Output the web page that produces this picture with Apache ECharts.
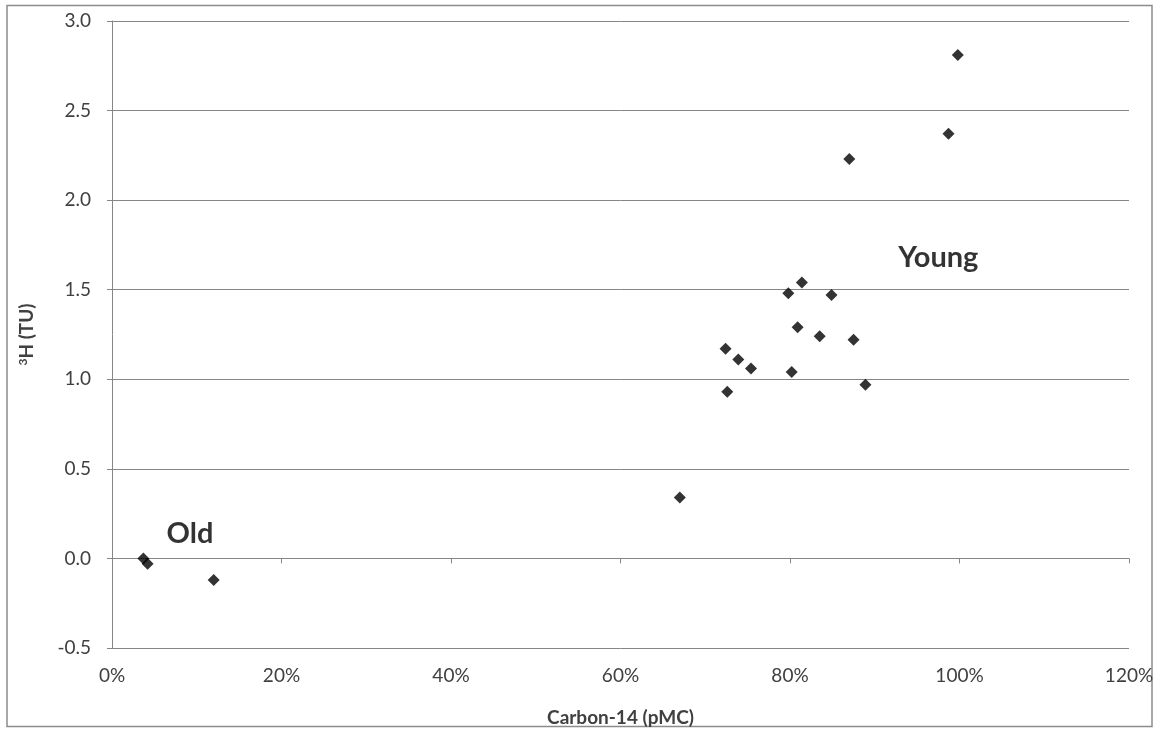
<!DOCTYPE html>
<html>
<head>
<meta charset="utf-8">
<script src="https://cdn.jsdelivr.net/npm/echarts@6/dist/echarts.min.js"></script>
<style>
  html, body { margin: 0; padding: 0; background: #fff; }
  #chart { width: 1160px; height: 732px; }
</style>
</head>
<body>
<div id="chart"></div>
<script>
// Carbon-14 (pMC, %) vs tritium (TU)
const c14 = [3.7, 4.2, 12.0, 67.0, 72.6, 72.4, 73.9, 75.4, 79.8, 80.2, 80.9, 81.4, 83.5, 84.9, 87.0, 87.5, 88.9, 98.7, 99.8]
const tritium = [0.0, -0.03, -0.12, 0.34, 0.93, 1.17, 1.11, 1.06, 1.48, 1.04, 1.29, 1.54, 1.24, 1.47, 2.23, 1.22, 0.97, 2.37, 2.81]

const notes = ['Old', 'Young']
const noteX = [9.2, 97.5]
const noteY = [0.14, 1.68]

const FONT = 'Lato'

const chart = echarts.init(document.getElementById('chart'), null, { renderer: 'canvas' })

chart.setOption({
  backgroundColor: '#fff',
  animation: false,
  textStyle: { fontFamily: FONT },
  graphic: [{
    type: 'rect',
    shape: { x: 7, y: 5.5, width: 1145, height: 721 },
    style: { fill: 'none', stroke: '#8c8c8c', lineWidth: 1.5 },
    silent: true,
  }],
  grid: { left: 112, right: 31, top: 21, bottom: 84 },
  xAxis: {
    type: 'value',
    min: 0,
    max: 120,
    interval: 20,
    name: 'Carbon-14 (pMC)',
    nameLocation: 'middle',
    nameGap: 60,
    nameTextStyle: { fontFamily: FONT, fontWeight: 'bold', fontSize: 19, color: '#404040' },
    axisLine: { show: true, lineStyle: { color: '#868686', width: 1 } },
    axisTick: { show: true, length: 5, lineStyle: { color: '#868686' } },
    axisLabel: { formatter: '{value}%', color: '#404040', fontSize: 19, margin: 18 },
    splitLine: { show: false },
  },
  yAxis: {
    type: 'value',
    min: -0.5,
    max: 3.0,
    interval: 0.5,
    name: '{sup|3}H (TU)',
    nameLocation: 'middle',
    nameRotate: 90,
    nameGap: 76,
    nameTextStyle: {
      fontFamily: FONT, fontWeight: 'bold', fontSize: 19, color: '#404040',
      rich: { sup: { fontFamily: FONT, fontWeight: 'bold', fontSize: 12, color: '#404040', verticalAlign: 'top', padding: [0, 0, 7, 0] } },
    },
    axisLine: { show: true, lineStyle: { color: '#868686', width: 1 } },
    axisTick: { show: true, length: 5, lineStyle: { color: '#868686' } },
    axisLabel: { formatter: (v) => v.toFixed(1), color: '#404040', fontSize: 19, margin: 21 },
    splitLine: { show: true, lineStyle: { color: '#868686', width: 1 } },
  },
  series: [
    {
      type: 'scatter',
      symbol: 'diamond',
      symbolSize: 12,
      itemStyle: { color: '#000' },
      data: c14.map((x, i) => [x, tritium[i]]),
      z: 3,
    },
    {
      type: 'scatter',
      symbolSize: 0,
      silent: true,
      data: notes.map((n, i) => ({ value: [noteX[i], noteY[i]], name: n })),
      label: {
        show: true,
        position: 'inside',
        formatter: (p) => p.name,
        fontFamily: FONT,
        fontWeight: 'bold',
        fontSize: 29,
        color: '#000',
      },
    },
  ],
})
</script>
</body>
</html>
